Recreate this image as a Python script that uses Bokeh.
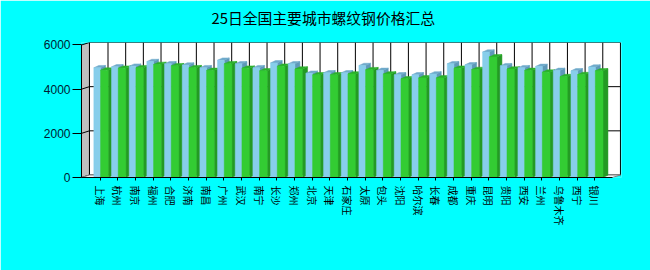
from bokeh.plotting import figure
from bokeh.models import Range1d, FixedTicker, ColumnDataSource, Title
from bokeh.embed import file_html
from bokeh.resources import INLINE

cities = ["上海", "杭州", "南京", "福州", "合肥", "济南", "南昌", "广州", "武汉", "南宁",
          "长沙", "郑州", "北京", "天津", "石家庄", "太原", "包头", "沈阳", "哈尔滨", "长春",
          "成都", "重庆", "昆明", "贵阳", "西安", "兰州", "乌鲁木齐", "西宁", "银川"]
series_a = [4970, 5010, 5040, 5250, 5150, 5090, 4970, 5310, 5150, 4970,
            5190, 5150, 4720, 4740, 4740, 5070, 4850, 4650, 4650, 4690,
            5150, 5100, 5680, 5060, 4970, 5030, 4850, 4830, 5000]
series_b = [4860, 4950, 4970, 5120, 5060, 4970, 4850, 5150, 4950, 4830,
            5040, 4910, 4650, 4650, 4690, 4880, 4690, 4470, 4510, 4510,
            4950, 4890, 5460, 4910, 4850, 4770, 4570, 4660, 4830]
y_ticks = [0, 2000, 4000, 6000]
title_text = "25日全国主要城市螺纹钢价格汇总"

Y_MAX = 6000
X0, X1 = -1.05, 29.0          # front axis extent (category units)
DXW, DYW = 0.45, 113          # wall depth offset
DXB, DYB = 0.28, 104          # bar depth offset
BL, BM, GR = -0.351, 0.03, 0.464

p = figure(width=650, height=270, x_range=Range1d(-1.05, 29.51), y_range=Range1d(0, 6113),
           output_backend="svg", toolbar_location=None,
           min_border_left=81, min_border_right=29, min_border_top=42, min_border_bottom=93)
p.background_fill_color = "#00FFFF"
p.border_fill_color = "#00FFFF"
p.outline_line_color = None
p.xgrid.visible = False
p.ygrid.visible = False

# spacer panel between frame and title, then the title itself
p.add_layout(Title(text=" ", text_font_size="1px", standoff=12), "above")
p.add_layout(Title(text=title_text, align="left", offset=130, standoff=0,
                   text_font="Noto Sans CJK SC", text_font_size="14.8px",
                   text_font_style="normal", text_color="black"), "above")

# back wall
p.quad(left=[X0 + DXW], right=[X1 + DXW], bottom=[DYW], top=[Y_MAX + DYW],
       fill_color="white", line_color="black", line_width=1)
# left wall
p.patch([X0, X0 + DXW, X0 + DXW, X0], [0, DYW, Y_MAX + DYW, Y_MAX],
        fill_color="#c0c0c0", line_color="black", line_width=1)
# floor
p.patch([X0, X1, X1 + DXW, X0 + DXW], [0, 0, DYW, DYW],
        fill_color="#f4f4f4", line_color="#808080", line_width=1)

# back wall grid lines
hv = [v for v in y_ticks if 0 < v < Y_MAX]
p.segment(x0=[X0 + DXW] * len(hv), y0=[v + DYW for v in hv],
          x1=[X1 + DXW] * len(hv), y1=[v + DYW for v in hv], line_color="black", line_width=1)
idx = list(range(len(cities)))
p.segment(x0=[i + DXW for i in idx], y0=[DYW] * len(idx),
          x1=[i + DXW for i in idx], y1=[Y_MAX + DYW] * len(idx), line_color="black", line_width=1)
# left wall grid lines
p.segment(x0=[X0] * len(hv), y0=hv, x1=[X0 + DXW] * len(hv), y1=[v + DYW for v in hv],
          line_color="black", line_width=1)

# 3D bars
xs, ys, cols = [], [], []
blue = ("#87CEEB", "#6FAACB", "#5E98B8")
green = ("#33CC33", "#2BB02B", "#249A24")
for i, (a, b) in enumerate(zip(series_a, series_b)):
    for xl, xr, v, (cf, ct, cs) in ((i + BL, i + BM, a, blue), (i + BM, i + GR, b, green)):
        xs.append([xr, xr + DXB, xr + DXB, xr]); ys.append([0, DYB, v + DYB, v]); cols.append(cs)
        xs.append([xl, xr, xr + DXB, xl + DXB]); ys.append([v, v, v + DYB, v + DYB]); cols.append(ct)
        xs.append([xl, xr, xr, xl]); ys.append([0, 0, v, v]); cols.append(cf)
src = ColumnDataSource(dict(xs=xs, ys=ys, c=cols))
p.patches("xs", "ys", fill_color="c", line_color="c", line_width=0.5, source=src)

# axes
p.xaxis.ticker = FixedTicker(ticks=idx)
p.xaxis.major_label_overrides = {i: c for i, c in enumerate(cities)}
p.xaxis.major_label_orientation = "vertical"
p.xaxis.major_label_text_font = "Noto Sans CJK SC"
p.xaxis.major_label_text_font_size = "10px"
p.xaxis.major_label_text_color = "black"
p.xaxis.major_label_standoff = 5
p.xaxis.major_tick_out = 3
p.xaxis.major_tick_in = 0
p.xaxis.minor_tick_line_color = None
p.xaxis.axis_line_color = "black"
p.xaxis.major_tick_line_color = "black"
p.xaxis.bounds = (X0, X1)

p.yaxis.ticker = FixedTicker(ticks=y_ticks)
p.yaxis.major_label_text_font = "Liberation Sans"
p.yaxis.major_label_text_font_size = "12px"
p.yaxis.major_label_text_color = "#001a33"
p.yaxis.major_label_standoff = 2
p.yaxis.major_tick_out = 9
p.yaxis.major_tick_in = 0
p.yaxis.minor_tick_line_color = None
p.yaxis.axis_line_color = "black"
p.yaxis.major_tick_line_color = "black"
p.yaxis.bounds = (0, Y_MAX)

open("out.html", "w").write(file_html(p, INLINE))
